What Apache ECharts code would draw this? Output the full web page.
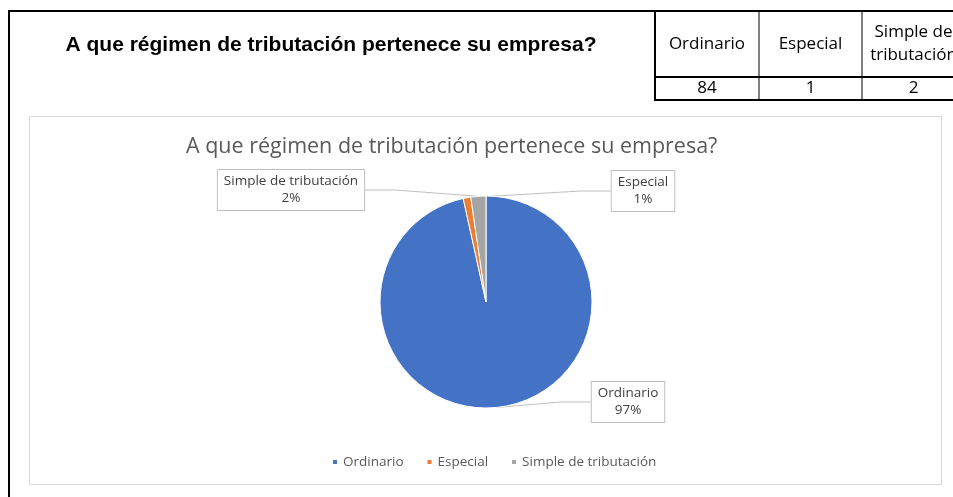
<!DOCTYPE html>
<html>
<head>
<meta charset="utf-8">
<script src="https://cdn.jsdelivr.net/npm/echarts@6/dist/echarts.min.js"></script>
<style>
  html, body { margin: 0; padding: 0; background: #fff; }
  #chart { width: 953px; height: 497px; }
</style>
</head>
<body>
<div id="chart"></div>
<script>
var titulo = 'A que régimen de tributación pertenece su empresa?';
var categorias = ['Ordinario', 'Especial', 'Simple de tributación'];
var encabezados = ['Ordinario', 'Especial', 'Simple de\ntributación'];
var valores = [84, 1, 2];
var colores = ['#4472C4', '#ED7D31', '#A5A5A5'];
// where each callout box sits (center), like in the excel sheet
var etiquetaPos = [[628, 402], [643, 191], [291, 190]];

var myChart = echarts.init(document.getElementById('chart'));

// table cells on top of the sheet
var celdas = [];
var colX = [655, 759, 862, 965];
for (var i = 0; i < categorias.length; i++) {
    var cx = (colX[i] + colX[i + 1]) / 2;
    celdas.push({
        type: 'text', x: cx, y: 44,
        style: { text: encabezados[i], font: '17px "Open Sans"', fill: '#000', align: 'center', verticalAlign: 'middle', lineHeight: 23 }
    });
    celdas.push({
        type: 'text', x: cx, y: 88,
        style: { text: String(valores[i]), font: '17px "Open Sans"', fill: '#000', align: 'center', verticalAlign: 'middle' }
    });
    if (i > 0) {
        celdas.push({ type: 'line', shape: { x1: colX[i], y1: 11, x2: colX[i], y2: 100 }, style: { stroke: '#000', lineWidth: 1 } });
    }
}

var option = {
    animation: false,
    title: {
        text: titulo,
        left: 181,
        top: 131,
        textStyle: { fontFamily: 'Open Sans', fontWeight: 'normal', fontSize: 21.5, color: '#595959' }
    },
    legend: {
        data: categorias,
        top: 450,
        left: 326,
        icon: 'rect',
        itemWidth: 6,
        itemHeight: 6,
        itemGap: 22,
        textStyle: { fontFamily: 'Open Sans', fontSize: 13.5, color: '#595959' }
    },
    graphic: [
        // sheet borders
        { type: 'line', shape: { x1: 8, y1: 11, x2: 953, y2: 11 }, style: { stroke: '#000', lineWidth: 2 } },
        { type: 'line', shape: { x1: 9, y1: 10, x2: 9, y2: 497 }, style: { stroke: '#000', lineWidth: 2 } },
        { type: 'text', x: 331, y: 45, style: { text: titulo, font: 'bold 21px "Liberation Sans"', fill: '#000', align: 'center', verticalAlign: 'middle' } },
        { type: 'line', shape: { x1: 655, y1: 11, x2: 655, y2: 101 }, style: { stroke: '#000', lineWidth: 2 } },
        { type: 'line', shape: { x1: 655, y1: 77, x2: 953, y2: 77 }, style: { stroke: '#000', lineWidth: 2 } },
        { type: 'line', shape: { x1: 655, y1: 100, x2: 953, y2: 100 }, style: { stroke: '#000', lineWidth: 2 } },
        // chart area
        { type: 'rect', z: -1, shape: { x: 29.5, y: 116.5, width: 912, height: 368 }, style: { fill: '#fff', stroke: '#d9d9d9', lineWidth: 1 } }
    ].concat(celdas),
    series: [{
        type: 'pie',
        center: [486, 302],
        radius: 106,
        startAngle: 90,
        clockwise: true,
        color: colores,
        itemStyle: { borderColor: '#fff', borderWidth: 1 },
        label: {
            show: true,
            position: 'outside',
            formatter: function (p) { return p.name + '\n' + Math.round(p.percent) + '%'; },
            fontFamily: 'Open Sans',
            fontSize: 13.5,
            lineHeight: 17,
            color: '#404040',
            align: 'center',
            backgroundColor: '#fff',
            borderColor: '#bfbfbf',
            borderWidth: 1,
            padding: [3, 6]
        },
        labelLine: { show: true, lineStyle: { color: '#bfbfbf', width: 1 } },
        labelLayout: function (params) {
            var p = etiquetaPos[params.dataIndex];
            return { x: p[0], y: p[1], align: 'center', verticalAlign: 'middle' };
        },
        data: categorias.map(function (c, i) { return { name: c, value: valores[i] }; })
    }]
};
myChart.setOption(option);
</script>
</body>
</html>
